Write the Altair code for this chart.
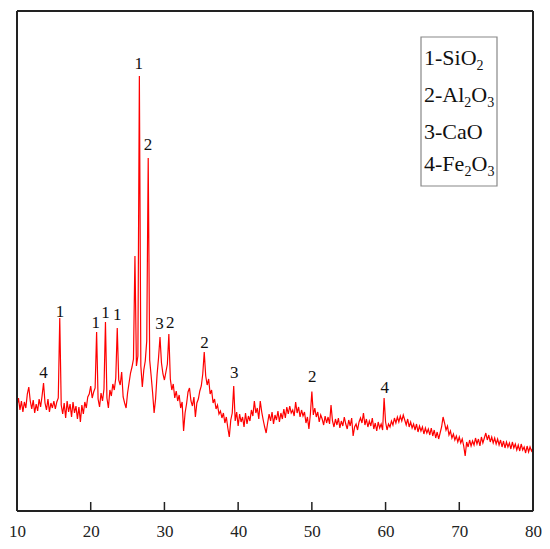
import altair as alt
import pandas as pd

# 2-theta grid (0.2 degree step) and intensities (arbitrary units)
two_theta_start = 10.0
two_theta_step = 0.2
intensity = [
    21.0, 22.6, 20.2, 22.0, 19.8, 21.8, 20.6, 23.4, 24.8, 22.0,
    20.4, 22.2, 19.6, 21.4, 20.0, 22.4, 20.8, 23.0, 25.6, 21.6,
    20.2, 22.4, 19.8, 21.6, 20.6, 22.0, 20.4, 21.8, 22.6, 38.6,
    21.2, 19.4, 21.6, 18.6, 22.0, 19.8, 21.4, 18.8, 21.8, 19.6,
    21.0, 18.4, 20.8, 17.8, 21.2, 19.4, 21.8, 20.6, 22.8, 23.4,
    25.0, 22.6, 23.8, 24.6, 35.8, 22.4, 20.8, 23.6, 22.0, 24.4,
    37.8, 22.6, 20.6, 24.2, 23.0, 25.4, 24.2, 26.6, 36.6, 26.2,
    25.2, 27.8, 22.8, 21.6, 20.6, 23.6, 25.6, 27.6, 28.8, 30.4,
    51.0, 29.0, 31.0, 87.0, 29.0, 24.8, 28.2, 30.0, 34.0, 70.6,
    30.2, 27.0, 23.6, 19.6, 22.4, 27.2, 30.6, 34.8, 29.6, 27.4,
    26.2, 27.8, 29.4, 35.4, 26.4, 24.2, 25.4, 22.6, 24.0, 22.0,
    23.2, 20.6, 21.8, 16.0, 19.6, 21.4, 23.8, 24.6, 22.0, 21.0,
    22.8, 18.8, 21.6, 22.4, 24.0, 25.0, 27.4, 31.8, 27.0, 25.2,
    26.4, 23.4, 24.2, 21.6, 22.4, 20.4, 21.2, 19.4, 20.0, 18.6,
    19.6, 17.6, 18.8, 16.6, 14.8, 18.2, 19.6, 25.0, 18.0, 19.8,
    17.0, 19.4, 17.8, 18.8, 16.8, 19.6, 17.4, 19.0, 18.0, 20.2,
    19.0, 22.0, 19.6, 20.6, 18.4, 22.0, 19.8, 18.2, 16.8, 15.6,
    17.6, 19.4, 18.0, 19.8, 17.4, 19.2, 18.2, 20.0, 17.8, 19.6,
    18.4, 20.4, 18.6, 20.8, 19.4, 21.0, 19.6, 20.2, 19.0, 21.8,
    19.6, 20.8, 18.8, 20.2, 19.0, 19.8, 17.6, 18.8, 16.4, 19.4,
    23.9, 19.2, 20.6, 18.8, 19.8, 17.8, 19.2, 18.4, 17.2, 19.0,
    17.6, 18.8, 17.4, 21.2, 18.0, 16.8, 18.4, 17.2, 18.6, 16.6,
    18.0, 17.0, 18.8, 17.4, 16.4, 18.2, 17.0, 18.6, 15.0, 16.8,
    17.4, 16.2, 17.8, 18.6, 17.6, 19.6, 17.2, 18.4, 16.8, 18.0,
    17.0, 18.6, 16.4, 17.6, 16.0, 17.8, 16.6, 17.4, 16.2, 22.6,
    17.8, 16.2, 17.4, 16.8, 18.0, 17.2, 18.6, 17.6, 18.8, 17.8,
    19.0, 18.0, 19.2, 18.2, 17.2, 18.4, 16.8, 17.8, 16.6, 17.4,
    16.2, 17.4, 15.8, 17.0, 16.0, 16.8, 15.4, 16.6, 15.6, 16.4,
    15.2, 16.6, 15.0, 16.2, 14.6, 15.8, 14.4, 15.6, 16.8, 18.8,
    17.6, 16.2, 17.0, 15.2, 16.0, 14.6, 15.4, 14.2, 15.0, 13.8,
    14.8, 13.6, 14.4, 13.0, 11.0, 13.8, 12.8, 14.2, 13.0, 14.0,
    13.2, 14.6, 13.4, 14.4, 13.0, 14.8, 13.6, 14.6, 15.6, 14.2,
    15.2, 13.8, 14.8, 13.6, 14.6, 13.4, 14.4, 13.2, 14.2, 12.8,
    14.0, 12.6, 13.8, 12.8, 13.6, 12.4, 13.8, 12.6, 13.4, 12.2,
    13.2, 12.0, 13.4, 12.2, 12.8, 11.6, 13.0, 11.8, 12.8, 12.0,
    12.6,
]
two_theta = [round(two_theta_start + two_theta_step * i, 2) for i in range(len(intensity))]

# peak annotations
peak_labels = ["4", "1", "1", "1", "1", "1", "2", "3", "2", "2", "3", "2", "4"]
peak_x = [13.6, 15.85, 20.7, 22.0, 23.6, 26.5, 27.76, 29.33, 30.79, 35.45, 39.48, 50.04, 59.9]
peak_y = [27.6, 39.9, 37.7, 39.7, 39.2, 89.5, 73.2, 37.4, 37.7, 33.7, 27.7, 26.9, 24.7]

# axis ticks
tick_values = [10, 20, 30, 40, 50, 60, 70, 80]
inner_ticks = [20, 30, 40, 50, 60, 70]

SERIF = "Liberation Serif"
W, H = 516, 500
xscale = alt.Scale(domain=[10, 80], nice=False, zero=False)
yscale = alt.Scale(domain=[0, 100], nice=False, zero=False)

df = pd.DataFrame({"x": two_theta, "y": intensity})
line = alt.Chart(df).mark_line(color="#ff0000", strokeWidth=1.2).encode(
    x=alt.X("x:Q", scale=xscale, title=None,
            axis=alt.Axis(values=tick_values, labelFont=SERIF, labelFontSize=17,
                          labelColor="#222", domain=False, ticks=False, tickSize=0,
                          grid=False, labelPadding=12, labelFlush=False)),
    y=alt.Y("y:Q", scale=yscale, axis=None),
)

lab_df = pd.DataFrame({"t": peak_labels, "x": peak_x, "y": peak_y})
labels = alt.Chart(lab_df).mark_text(font=SERIF, fontSize=17, color="#111",
                                     baseline="middle", align="center").encode(
    x=alt.X("x:Q", scale=xscale), y=alt.Y("y:Q", scale=yscale), text="t:N")

tick_df = pd.DataFrame({"x": inner_ticks})
ticks = alt.Chart(tick_df).mark_rule(color="#222", strokeWidth=1.5).encode(
    x=alt.X("x:Q", scale=xscale),
    y=alt.value(H), y2=alt.value(H - 9))

one = pd.DataFrame({"a": [0]})

def frame_rule(x1, x2, y1, y2):
    return alt.Chart(one).mark_rule(color="#222", strokeWidth=2).encode(
        x=alt.value(x1), x2=alt.value(x2), y=alt.value(y1), y2=alt.value(y2))

frame = [frame_rule(0, W, 0, 0), frame_rule(0, W, H, H),
         frame_rule(0, 0, 0, H), frame_rule(W, W, 0, H)]

box = alt.Chart(one).mark_rect(fill="white", stroke="#888", strokeWidth=1.2).encode(
    x=alt.value(404), x2=alt.value(480), y=alt.value(26), y2=alt.value(175))

def piece(text, px, py, size):
    return alt.Chart(one).mark_text(text=text, font=SERIF, fontSize=size, color="#111",
                                    align="left", baseline="alphabetic").encode(
        x=alt.value(px), y=alt.value(py))

L = 407
B = 22
S = 14
legend_parts = [
    piece("1-SiO", L, 54, B), piece("2", L + 52.6, 59, S),
    piece("2-Al", L, 90.5, B), piece("2", L + 40.3, 95.5, S),
    piece("O", L + 47.3, 90.5, B), piece("3", L + 63.2, 95.5, S),
    piece("3-CaO", L, 128, B),
    piece("4-Fe", L, 160, B), piece("2", L + 40.5, 165, S),
    piece("O", L + 47.5, 160, B), piece("3", L + 63.4, 165, S),
]

chart = alt.layer(line, ticks, labels, box, *legend_parts, *frame).properties(
    width=W, height=H,
    autosize=alt.AutoSizeParams(type="none"),
    padding={"left": 9, "top": 3, "right": 9, "bottom": 30},
).configure_view(stroke=None).configure(background="white")

chart.save("out.html", embed_options={"renderer": "svg", "actions": False})
